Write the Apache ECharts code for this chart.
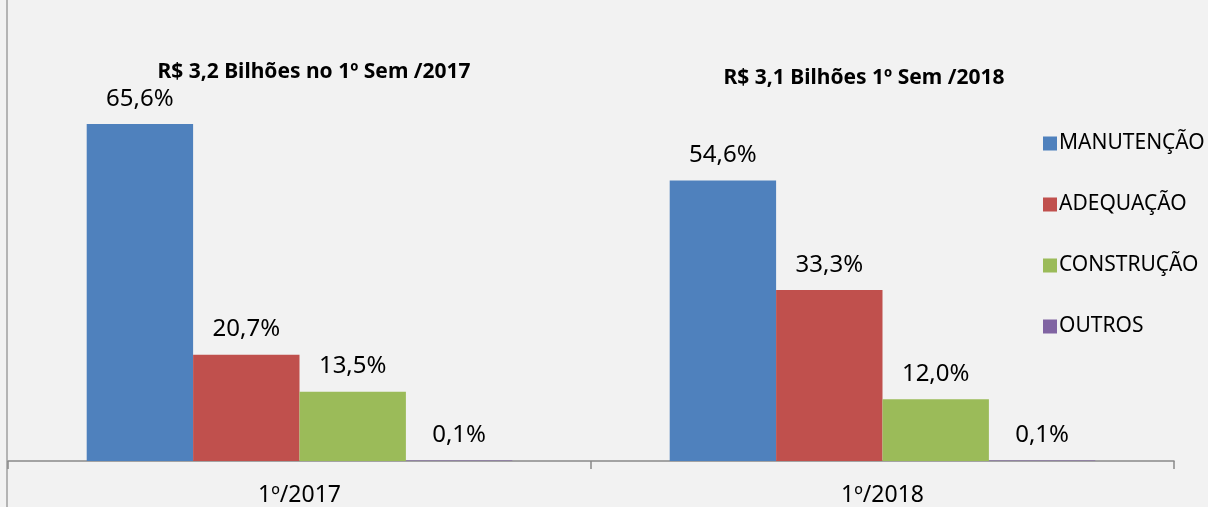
<!DOCTYPE html>
<html>
<head>
<meta charset="utf-8">
<script src="https://cdn.jsdelivr.net/npm/echarts@6/dist/echarts.min.js"></script>
<style>
    html, body { margin: 0; padding: 0; background: #f2f2f2; }
    #main { width: 1208px; height: 507px; }
</style>
</head>
<body>
<div id="main"></div>
<script>
// dados do gráfico
var categories = ['1º/2017', '1º/2018'];
var seriesNames = ['MANUTENÇÃO', 'ADEQUAÇÃO', 'CONSTRUÇÃO', 'OUTROS'];
var manutencao = [65.6, 54.6];
var adequacao = [20.7, 33.3];
var construcao = [13.5, 12.0];
var outros = [0.1, 0.1];
var groupTitles = ['R$ 3,2 Bilhões no 1º Sem /2017', 'R$ 3,1 Bilhões 1º Sem /2018'];

var colors = ['#4F81BD', '#C0504D', '#9BBB59', '#8064A2'];
var fontFamily = 'Noto Sans';

function drawChart() {
    var myChart = echarts.init(document.getElementById('main'));

    var values = [manutencao, adequacao, construcao, outros];
    var series = [];
    for (var i = 0; i < seriesNames.length; i++) {
        series.push({
            name: seriesNames[i],
            type: 'bar',
            data: values[i],
            barGap: '0%',
            barCategoryGap: '27%',
            itemStyle: { color: colors[i] },
            label: {
                show: true,
                position: 'top',
                distance: 13,
                fontFamily: fontFamily,
                fontSize: 24,
                color: '#000',
                formatter: function (p) {
                    return p.value.toFixed(1).replace('.', ',') + '%';
                }
            }
        });
    }

    var option = {
        backgroundColor: '#f2f2f2',
        animation: false,
        title: [{
            text: groupTitles[0],
            left: 309,
            top: 57,
            textAlign: 'center',
            textStyle: { fontFamily: fontFamily, fontSize: 21, fontWeight: 'bold', color: '#000' }
        }, {
            text: groupTitles[1],
            left: 859,
            top: 63,
            textAlign: 'center',
            textStyle: { fontFamily: fontFamily, fontSize: 21, fontWeight: 'bold', color: '#000' }
        }],
        legend: {
            orient: 'vertical',
            left: 1038,
            top: 128,
            itemWidth: 14,
            itemHeight: 14,
            itemGap: 40,
            icon: 'rect',
            textStyle: { fontFamily: fontFamily, fontSize: 21, color: '#000', padding: [0, 0, 0, -3] },
            data: seriesNames
        },
        grid: {
            left: 8,
            right: 34,
            top: 50,
            bottom: 45
        },
        xAxis: {
            type: 'category',
            data: categories,
            axisLine: { lineStyle: { color: '#898989', width: 1.5 } },
            axisTick: { show: true, length: 8, lineStyle: { color: '#898989', width: 1.5 } },
            axisLabel: { fontFamily: fontFamily, fontSize: 23, color: '#000', margin: 23 }
        },
        yAxis: {
            type: 'value',
            min: 0,
            max: 80,
            show: false
        },
        graphic: [{
            type: 'line',
            shape: { x1: 7, y1: 0, x2: 7, y2: 507 },
            style: { stroke: '#b4b4b4', lineWidth: 2 }
        }],
        series: series
    };

    myChart.setOption(option);
}

drawChart();
</script>
</body>
</html>
